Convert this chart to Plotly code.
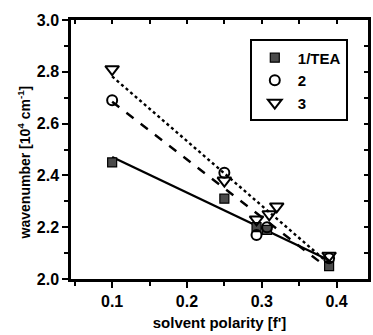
import numpy as np
import plotly.graph_objects as go

# solvent polarity f' and absorption maxima (10^4 cm^-1)
x_tea = [0.10, 0.25, 0.293, 0.307, 0.39]
y_tea = [2.45, 2.31, 2.20, 2.19, 2.05]

x_2 = [0.10, 0.25, 0.293, 0.307, 0.39]
y_2 = [2.69, 2.41, 2.17, 2.20, 2.08]

x_3 = [0.10, 0.25, 0.293, 0.31, 0.32, 0.39]
y_3 = [2.81, 2.38, 2.23, 2.25, 2.28, 2.09]

series_names = ["1/TEA", "2", "3"]
x_ticks = [0.1, 0.2, 0.3, 0.4]
y_ticks = [2.0, 2.2, 2.4, 2.6, 2.8, 3.0]

FONT = "Liberation Sans, Arial, sans-serif"

fig = go.Figure()


def fit_line(xs, ys):
    k, b = np.polyfit(xs, ys, 1)
    xx = np.array([min(xs), max(xs)])
    return xx, k * xx + b


for xs, ys, dash in [(x_tea, y_tea, "solid"), (x_2, y_2, "dash"), (x_3, y_3, "dot")]:
    fx, fy = fit_line(xs, ys)
    fig.add_trace(go.Scatter(x=fx, y=fy, mode="lines", showlegend=False,
                             line=dict(color="black", width=2.4, dash=dash)))

fig.add_trace(go.Scatter(x=x_tea, y=y_tea, mode="markers", name=series_names[0],
                         marker=dict(symbol="square", size=9, color="#4a4a4a",
                                     line=dict(color="black", width=1.2))))
fig.add_trace(go.Scatter(x=x_2, y=y_2, mode="markers", name=series_names[1],
                         marker=dict(symbol="circle-open", size=10, color="black",
                                     line=dict(color="black", width=2))))
fig.add_trace(go.Scatter(x=x_3, y=y_3, mode="markers", name=series_names[2],
                         marker=dict(symbol="triangle-down-open", size=12, color="black",
                                     line=dict(color="black", width=2))))

x_range = [0.045, 0.442]
y_range = [2.0, 3.0]

fig.update_layout(
    width=373, height=335,
    margin=dict(l=71, r=5, t=20, b=56),
    paper_bgcolor="white", plot_bgcolor="white",
    font=dict(family=FONT, color="black", size=14),
    legend=dict(x=0.602, y=0.925, xanchor="left", yanchor="top",
                bordercolor="black", borderwidth=2, bgcolor="white",
                font=dict(family=FONT, size=15, color="black", weight="bold"),
                tracegroupgap=0, itemwidth=36),
    xaxis=dict(range=x_range, tickvals=x_ticks, ticktext=[f"{v:.1f}" for v in x_ticks],
               showgrid=False, zeroline=False, showline=True, linecolor="black", linewidth=2.5,
               ticks="outside", ticklen=6, tickwidth=2, tickcolor="black",
               minor=dict(tickvals=[0.05, 0.15, 0.25, 0.35], ticks="outside", ticklen=4,
                          tickwidth=2, tickcolor="black"),
               tickfont=dict(size=16, family=FONT, weight="bold"),
               title=dict(text="solvent polarity [f']", standoff=9,
                          font=dict(size=15, family=FONT, weight="bold"))),
    yaxis=dict(range=y_range, tickvals=y_ticks, ticktext=[f"{v:.1f}" for v in y_ticks],
               showgrid=False, zeroline=False, showline=True, linecolor="black", linewidth=2.5,
               ticks="outside", ticklen=6, tickwidth=2, tickcolor="black",
               minor=dict(tickvals=[2.1, 2.3, 2.5, 2.7, 2.9], ticks="outside", ticklen=4,
                          tickwidth=2, tickcolor="black"),
               tickfont=dict(size=16, family=FONT, weight="bold")),
    # top and right frame with inward ticks
    xaxis2=dict(range=x_range, overlaying="x", side="top", matches="x",
                tickvals=[0.05, 0.1, 0.15, 0.2, 0.25, 0.3, 0.35, 0.4],
                showticklabels=False, showgrid=False, zeroline=False,
                showline=True, linecolor="black", linewidth=2.5,
                ticks="inside", ticklen=4, tickwidth=2, tickcolor="black"),
    yaxis2=dict(range=y_range, overlaying="y", side="right",
                tickvals=[2.1, 2.2, 2.3, 2.4, 2.5, 2.6, 2.7, 2.8, 2.9],
                showticklabels=False, showgrid=False, zeroline=False,
                showline=True, linecolor="black", linewidth=2.5,
                ticks="inside", ticklen=4, tickwidth=2, tickcolor="black"),
)

# y-axis title, set slightly below the plot's vertical centre
fig.add_annotation(text="wavenumber [10<sup>4</sup> cm<sup>-1</sup>]", textangle=-90,
                   xref="paper", yref="paper", x=-0.155, y=0.45,
                   xanchor="center", yanchor="middle", showarrow=False,
                   font=dict(size=14, family=FONT, weight="bold", color="black"))

# invisible trace to activate the top/right frame axes
fig.add_trace(go.Scatter(x=[x_range[0]], y=[y_range[0]], xaxis="x2", yaxis="y2",
                         mode="markers", marker=dict(opacity=0), showlegend=False,
                         hoverinfo="skip"))

fig.write_html("out.html")
